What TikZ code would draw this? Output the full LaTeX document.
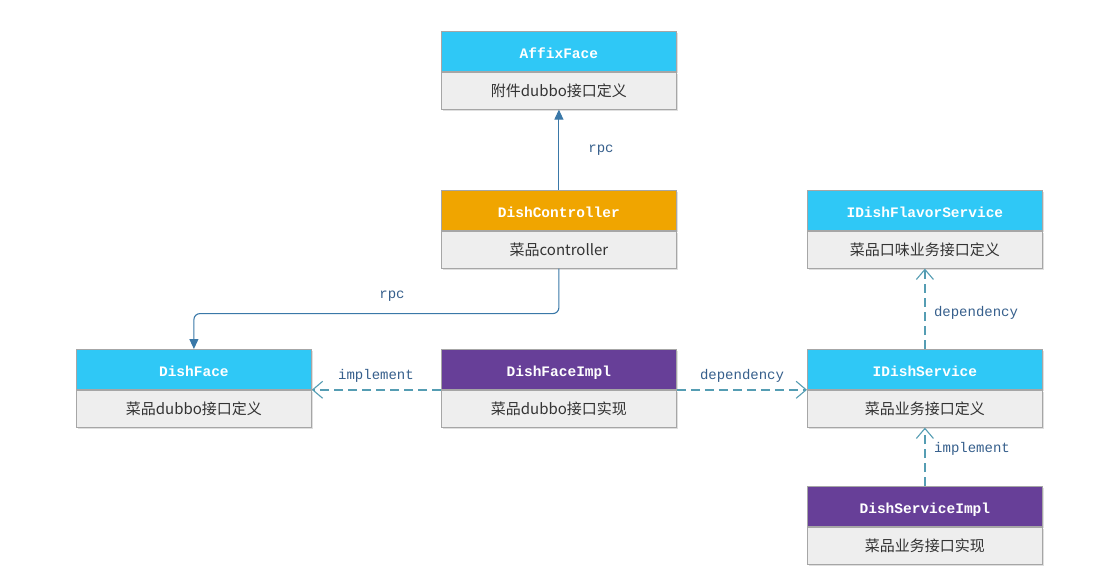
\documentclass[tikz,border=0pt]{standalone}
\usepackage{fontspec}
\setmonofont{Liberation Mono}
\newfontfamily\cjkfont{Noto Sans CJK SC}
\usetikzlibrary{arrows.meta,shadows}

\definecolor{hdrblue}{HTML}{2FC8F6}
\definecolor{hdrorange}{HTML}{F0A500}
\definecolor{hdrpurple}{HTML}{673F98}
\definecolor{bodygray}{HTML}{EEEEEE}
\definecolor{edgegray}{HTML}{A6A6A6}
\definecolor{rpcblue}{HTML}{3A78A8}
\definecolor{dashteal}{HTML}{559DB3}
\definecolor{labelblue}{HTML}{365F8C}
\definecolor{bodytext}{HTML}{333333}

\tikzset{
  boxshadow/.style={drop shadow={shadow xshift=1.5bp, shadow yshift=-1.5bp, opacity=0.25, fill=black!50}},
  hdr/.style={rectangle, draw=edgegray, line width=0.8bp, boxshadow,
    minimum width=235bp, minimum height=40bp, inner sep=0pt,
    text height=14bp, text depth=0bp,
    font=\fontsize{14.5bp}{16bp}\selectfont\ttfamily\bfseries, text=white},
  bdy/.style={rectangle, draw=edgegray, line width=0.8bp, fill=bodygray, boxshadow,
    minimum width=235bp, minimum height=37bp, inner sep=0pt,
    font=\fontsize{15bp}{17bp}\selectfont\cjkfont, text=bodytext},
  lbl/.style={font=\fontsize{14bp}{15bp}\selectfont\ttfamily, text=labelblue, inner sep=0pt},
  rpcline/.style={draw=rpcblue, line width=1.1bp, -{Triangle[length=10bp,width=9bp]}},
  depline/.style={draw=dashteal, line width=1.4bp, dash pattern=on 9bp off 5bp,
    -{Straight Barb[length=10bp,width=17bp,line width=1.1bp]}},
}

% a class box: coloured title bar over a grey description bar
\newcommand{\umlbox}[6]{%
  \node[hdr, fill=#4, anchor=north west] (#1h) at (#2,#3) {#5};
  \node[bdy, anchor=north] (#1b) at (#1h.south) {#6};
}

\begin{document}
\begin{tikzpicture}[x=1bp,y=-1bp]
  \useasboundingbox[fill=white] (0,0) rectangle (1097,586);

  \umlbox{affix}{441}{31}{hdrblue}{AffixFace}{附件dubbo接口定义}
  \umlbox{ctrl}{441}{190}{hdrorange}{DishController}{菜品controller}
  \umlbox{flav}{807}{190}{hdrblue}{IDishFlavorService}{菜品口味业务接口定义}
  \umlbox{face}{76}{349}{hdrblue}{DishFace}{菜品dubbo接口定义}
  \umlbox{impl}{441}{349}{hdrpurple}{DishFaceImpl}{菜品dubbo接口实现}
  \umlbox{svc}{807}{349}{hdrblue}{IDishService}{菜品业务接口定义}
  \umlbox{svci}{807}{486}{hdrpurple}{DishServiceImpl}{菜品业务接口实现}

  % rpc calls
  \draw[rpcline] (ctrlh.north) -- (affixb.south);
  \node[lbl] (rpcA) at (601,150) {rpc};
  \draw[rpcline, rounded corners=6bp] (ctrlb.south) -- ++(0,45) -| (faceh.north);
  \node[lbl] (rpcB) at (392,296) {rpc};

  % implementation and dependency links
  \draw[depline] (implh.south west) -- (faceh.south east);
  \node[lbl] (lblImplA) at (376,376) {implement};
  \draw[depline] (implh.south east) -- (svch.south west);
  \node[lbl] (lblDepA) at (742,376) {dependency};
  \draw[depline] (svch.north) -- (flavb.south);
  \node[lbl] (lblDepB) at (976,313) {dependency};
  \draw[depline] (svcih.north) -- (svcb.south);
  \node[lbl] (lblImplB) at (972,449) {implement};
\end{tikzpicture}
\end{document}
